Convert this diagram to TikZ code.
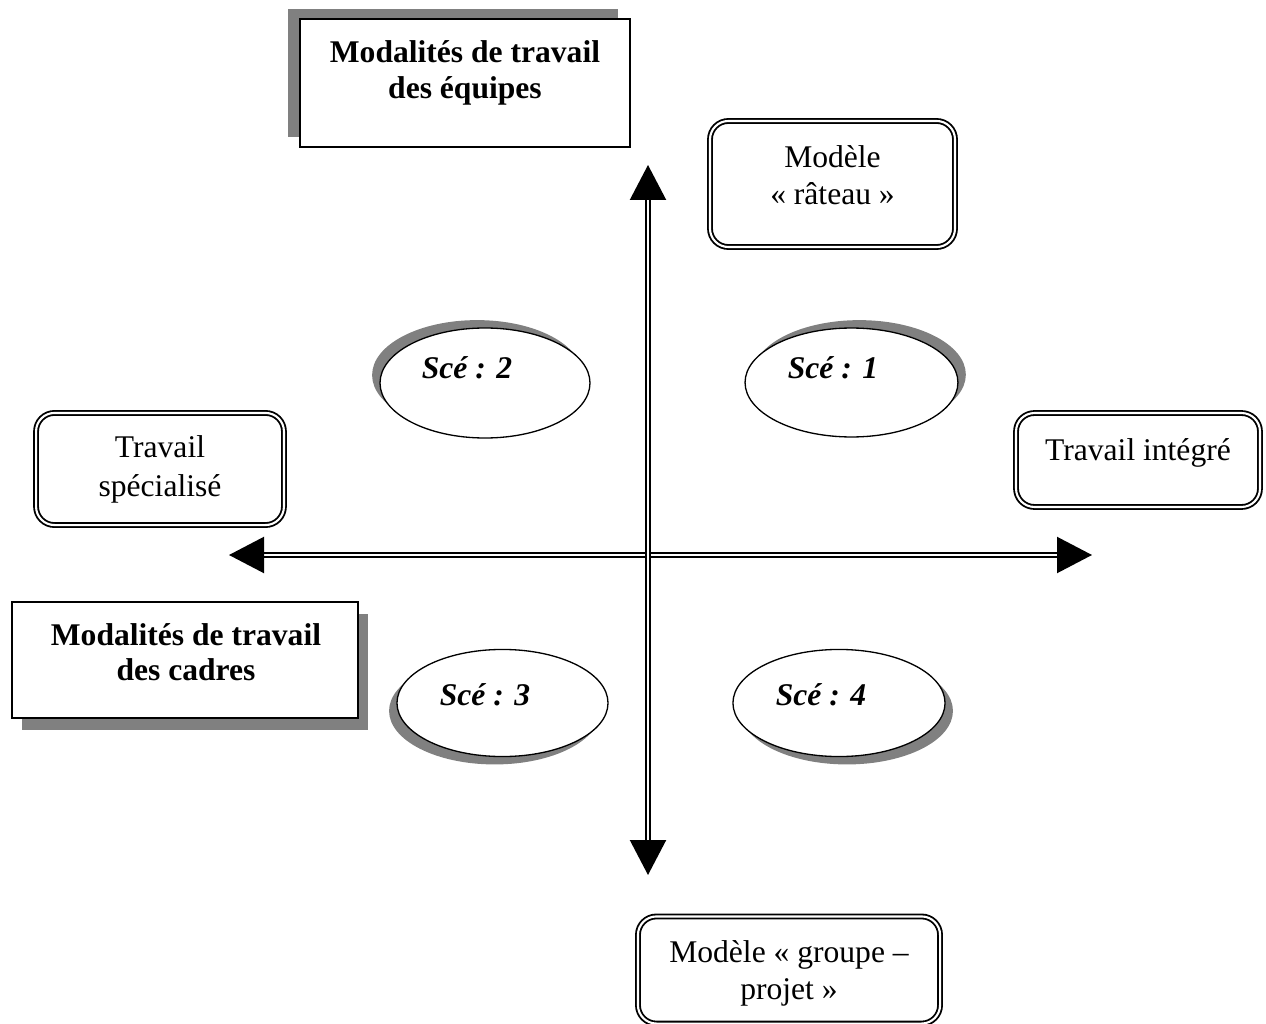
\documentclass[tikz,border=0pt]{standalone}
\usepackage{fontspec}
\setmainfont{Liberation Serif}
\usetikzlibrary{arrows.meta,positioning,calc,shapes.geometric,shadows}

\begin{document}
\begin{tikzpicture}[x=0.38pt,y=-0.38pt,
  font=\fontsize{12}{13.5}\selectfont,
  axis/.style={double,line width=0.75pt,double distance=0.75pt,
    >={Triangle[length=13.3pt,width=13.7pt]},<->},
  shadow box/.style={rectangle,draw,fill=white,line width=0.8pt,inner sep=0pt},
  title/.style={align=center,font=\fontsize{12}{13.5}\selectfont\bfseries},
  round box/.style={rectangle,rounded corners=7pt,draw,double,line width=0.7pt,
    double distance=0.8pt,fill=white,align=center,inner sep=0pt,
    font=\fontsize{12}{14}\selectfont},
  scen/.style={ellipse,draw,fill=white,line width=0.5pt,inner sep=0pt},
  scen text/.style={font=\fontsize{12}{13.5}\selectfont\bfseries\itshape}]
    \useasboundingbox (0,0) rectangle (1266,1024);

    % the two axes
    \coordinate (top) at (648,165);
    \coordinate (bot) at (648,875);
    \coordinate (left) at (229,555);
    \coordinate (right) at (1092,555);
    \draw[axis] (left) -- (right);
    \draw[axis] (bot) -- (top);

    % titles
    \node[shadow box,minimum width=125.4pt,minimum height=48.6pt,
      drop shadow={opacity=1,fill=gray,shadow xshift=-4.6pt,shadow yshift=3.8pt}]
      (equipes) at (465,83) {};
    \node[title] (equipesT) at (465,73) {Modalités de travail\\des équipes};
    \node[shadow box,minimum width=131.5pt,minimum height=44.1pt,
      drop shadow={opacity=1,fill=gray,shadow xshift=3.8pt,shadow yshift=-4.6pt}]
      (cadres) at (185,660) {};
    \node[title] (cadresT) at (186,652) {Modalités de travail\\des cadres};

    % poles
    \node[round box,minimum width=93.1pt,minimum height=47.9pt,text depth=6.8pt]
      (rateau) at (832.5,184) {Modèle\\«~râteau~»};
    \node[round box,minimum width=94.2pt,minimum height=42.6pt,
      font=\fontsize{12}{14.8}\selectfont] (specialise) at (160,469)
      {Travail\\spécialisé};
    \node[round box,minimum width=92.7pt,minimum height=35.7pt,text depth=8pt]
      (integre) at (1138,460) {Travail intégré};
    \node[round box,minimum width=114.8pt,minimum height=40.7pt,text depth=0pt]
      (groupe) at (789,970) {Modèle «~groupe~–\\projet~»};

    % scenarios
    \node[scen,minimum width=80.9pt,minimum height=41.4pt,
      drop shadow={opacity=1,fill=gray,shadow xshift=3pt,shadow yshift=3pt}]
      (sc1) at (851.5,382.5) {};
    \node[scen,minimum width=79.8pt,minimum height=41.8pt,
      drop shadow={opacity=1,fill=gray,shadow xshift=-3pt,shadow yshift=3pt}]
      (sc2) at (485,383) {};
    \node[scen,minimum width=80.2pt,minimum height=40.7pt,
      drop shadow={opacity=1,fill=gray,shadow xshift=-3pt,shadow yshift=-3pt}]
      (sc3) at (502.5,703) {};
    \node[scen,minimum width=80.6pt,minimum height=40.7pt,
      drop shadow={opacity=1,fill=gray,shadow xshift=3pt,shadow yshift=-3pt}]
      (sc4) at (839,703) {};
    \node[scen text] (sc1T) at (833,368) {Scé : 1};
    \node[scen text] (sc2T) at (467,368) {Scé : 2};
    \node[scen text] (sc3T) at (485,695) {Scé : 3};
    \node[scen text] (sc4T) at (821,695) {Scé : 4};
\end{tikzpicture}
\end{document}
